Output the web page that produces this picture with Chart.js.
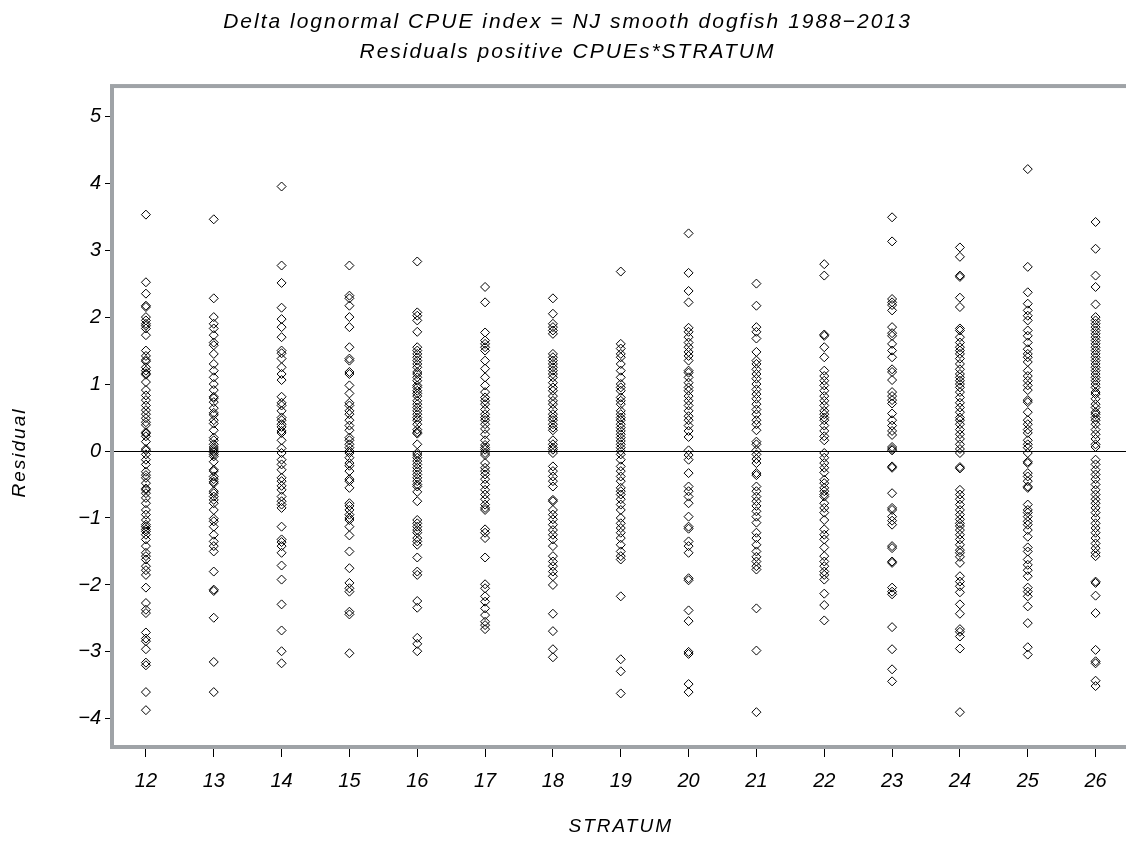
<!DOCTYPE html>
<html>
<head>
<meta charset="utf-8">
<script src="https://cdn.jsdelivr.net/npm/chart.js"></script>
<style>
  html, body { margin: 0; padding: 0; background: #fff; overflow: hidden; }
  #wrap { width: 1126px; height: 844px; overflow: hidden; }
</style>
</head>
<body>
<div id="wrap"><canvas id="mycanvas" width="1135" height="844"></canvas></div>
<script>
// residuals per stratum
var strata = [12, 13, 14, 15, 16, 17, 18, 19, 20, 21, 22, 23, 24, 25, 26];
var yTicks = [-4, -3, -2, -1, 0, 1, 2, 3, 4, 5];

var s12 = [3.53, 2.52, 2.35, 2.17, 2.15, 2.0, 1.95, 1.9, 1.87, 1.83, 1.73, 1.5, 1.42, 1.36, 1.34, 1.25, 1.2, 1.16, 1.14, 1.03, 0.91, 0.83, 0.76, 0.68, 0.61, 0.55, 0.49, 0.43, 0.39, 0.28, 0.26, 0.22, 0.14, 0.03, 0.01, -0.05, -0.13, -0.2, -0.31, -0.36, -0.4, -0.48, -0.56, -0.58, -0.63, -0.7, -0.78, -0.88, -0.95, -1.03, -1.1, -1.13, -1.17, -1.2, -1.25, -1.32, -1.42, -1.52, -1.57, -1.62, -1.72, -1.78, -1.85, -2.04, -2.27, -2.37, -2.42, -2.71, -2.8, -2.84, -2.96, -3.16, -3.2, -3.6, -3.87];
var s13 = [3.46, 2.28, 2.0, 1.9, 1.83, 1.73, 1.62, 1.58, 1.45, 1.3, 1.2, 1.1, 1.0, 0.91, 0.81, 0.79, 0.73, 0.64, 0.57, 0.54, 0.46, 0.41, 0.31, 0.2, 0.16, 0.1, 0.06, 0.03, 0.0, -0.02, -0.05, -0.08, -0.16, -0.28, -0.3, -0.38, -0.42, -0.46, -0.48, -0.6, -0.63, -0.68, -0.73, -0.78, -0.88, -1.01, -1.05, -1.13, -1.25, -1.35, -1.42, -1.5, -1.8, -2.07, -2.09, -2.49, -3.15, -3.6];
var s14 = [3.95, 2.77, 2.51, 2.14, 1.97, 1.85, 1.7, 1.5, 1.46, 1.38, 1.25, 1.15, 1.06, 0.81, 0.72, 0.68, 0.6, 0.5, 0.46, 0.4, 0.36, 0.3, 0.27, 0.16, 0.04, -0.03, -0.13, -0.2, -0.28, -0.4, -0.45, -0.52, -0.58, -0.68, -0.75, -0.8, -0.85, -1.13, -1.32, -1.36, -1.42, -1.52, -1.71, -1.92, -2.29, -2.68, -2.99, -3.17];
var s15 = [2.77, 2.32, 2.28, 2.17, 2.0, 1.85, 1.55, 1.38, 1.35, 1.18, 1.15, 0.98, 0.86, 0.72, 0.68, 0.6, 0.55, 0.46, 0.38, 0.31, 0.2, 0.16, 0.1, 0.05, 0.0, -0.03, -0.1, -0.18, -0.22, -0.3, -0.42, -0.45, -0.55, -0.78, -0.82, -0.88, -0.95, -1.0, -1.03, -1.13, -1.26, -1.5, -1.75, -1.97, -2.05, -2.1, -2.4, -2.44, -3.02];
var s16 = [2.83, 2.07, 2.02, 1.95, 1.78, 1.55, 1.5, 1.45, 1.4, 1.35, 1.3, 1.25, 1.18, 1.15, 1.1, 1.05, 0.98, 0.95, 0.9, 0.86, 0.82, 0.75, 0.7, 0.65, 0.6, 0.55, 0.5, 0.46, 0.4, 0.32, 0.28, 0.26, 0.1, -0.03, -0.06, -0.1, -0.15, -0.2, -0.25, -0.3, -0.35, -0.4, -0.45, -0.5, -0.53, -0.61, -0.75, -1.03, -1.08, -1.13, -1.18, -1.22, -1.3, -1.35, -1.4, -1.59, -1.8, -1.85, -2.24, -2.34, -2.79, -2.88, -2.99];
var s17 = [2.45, 2.22, 1.77, 1.65, 1.6, 1.55, 1.5, 1.35, 1.23, 1.1, 0.98, 0.88, 0.8, 0.75, 0.7, 0.62, 0.55, 0.5, 0.46, 0.4, 0.33, 0.25, 0.16, 0.09, 0.05, 0.02, -0.03, -0.06, -0.18, -0.25, -0.3, -0.35, -0.42, -0.5, -0.58, -0.65, -0.72, -0.8, -0.85, -0.88, -1.17, -1.22, -1.3, -1.59, -1.99, -2.05, -2.17, -2.25, -2.35, -2.45, -2.55, -2.6, -2.66];
var s18 = [2.28, 2.05, 1.9, 1.85, 1.8, 1.75, 1.45, 1.4, 1.35, 1.3, 1.25, 1.2, 1.15, 1.1, 1.02, 0.95, 0.9, 0.82, 0.75, 0.7, 0.62, 0.55, 0.5, 0.46, 0.4, 0.35, 0.31, 0.16, 0.1, 0.05, 0.02, -0.03, -0.23, -0.3, -0.38, -0.45, -0.53, -0.73, -0.75, -0.88, -0.95, -1.02, -1.1, -1.18, -1.25, -1.32, -1.42, -1.57, -1.65, -1.72, -1.8, -1.87, -2.0, -2.43, -2.69, -2.96, -3.08];
var s19 = [2.68, 1.6, 1.53, 1.45, 1.4, 1.3, 1.2, 1.1, 1.0, 0.95, 0.9, 0.8, 0.75, 0.7, 0.6, 0.55, 0.5, 0.46, 0.4, 0.35, 0.3, 0.25, 0.2, 0.15, 0.1, 0.05, 0.0, -0.05, -0.13, -0.23, -0.3, -0.38, -0.45, -0.55, -0.6, -0.65, -0.72, -0.8, -0.88, -1.0, -1.08, -1.15, -1.22, -1.3, -1.4, -1.5, -1.57, -1.62, -2.17, -3.11, -3.29, -3.62];
var s20 = [3.25, 2.66, 2.39, 2.22, 1.84, 1.78, 1.7, 1.62, 1.55, 1.48, 1.42, 1.35, 1.2, 1.17, 1.1, 1.02, 0.95, 0.9, 0.82, 0.75, 0.68, 0.6, 0.52, 0.46, 0.38, 0.3, 0.21, 0.01, -0.06, -0.13, -0.33, -0.53, -0.6, -0.68, -0.78, -0.98, -1.13, -1.16, -1.35, -1.42, -1.52, -1.9, -1.93, -2.38, -2.54, -3.0, -3.03, -3.48, -3.6];
var s21 = [2.5, 2.17, 1.85, 1.78, 1.68, 1.48, 1.35, 1.3, 1.22, 1.15, 1.08, 1.0, 0.92, 0.85, 0.78, 0.7, 0.62, 0.55, 0.46, 0.4, 0.31, 0.14, 0.1, 0.01, -0.05, -0.12, -0.18, -0.33, -0.36, -0.53, -0.6, -0.68, -0.75, -0.82, -0.9, -0.98, -1.07, -1.22, -1.3, -1.4, -1.5, -1.58, -1.65, -1.72, -1.77, -2.35, -2.98, -3.9];
var s22 = [2.79, 2.62, 1.74, 1.72, 1.55, 1.4, 1.2, 1.12, 1.05, 0.98, 0.9, 0.82, 0.75, 0.68, 0.6, 0.55, 0.5, 0.46, 0.38, 0.3, 0.22, 0.16, -0.03, -0.1, -0.18, -0.25, -0.32, -0.43, -0.48, -0.55, -0.6, -0.65, -0.68, -0.78, -0.85, -0.92, -1.03, -1.17, -1.25, -1.32, -1.44, -1.57, -1.65, -1.72, -1.8, -1.85, -1.92, -2.13, -2.3, -2.53];
var s23 = [3.49, 3.13, 2.27, 2.22, 2.18, 2.1, 1.85, 1.76, 1.72, 1.6, 1.5, 1.4, 1.22, 1.18, 1.06, 0.88, 0.82, 0.76, 0.71, 0.56, 0.46, 0.38, 0.3, 0.24, 0.06, 0.03, 0.01, -0.23, -0.25, -0.63, -0.85, -0.88, -0.98, -1.04, -1.1, -1.42, -1.45, -1.65, -1.67, -2.04, -2.1, -2.14, -2.63, -2.96, -3.26, -3.44];
var s24 = [3.04, 2.9, 2.62, 2.6, 2.29, 2.15, 1.83, 1.8, 1.7, 1.62, 1.55, 1.5, 1.45, 1.38, 1.3, 1.22, 1.15, 1.1, 1.05, 1.0, 0.95, 0.88, 0.8, 0.72, 0.65, 0.58, 0.5, 0.46, 0.4, 0.32, 0.25, 0.18, 0.1, 0.03, -0.03, -0.24, -0.26, -0.58, -0.65, -0.72, -0.8, -0.88, -0.95, -1.02, -1.08, -1.12, -1.18, -1.25, -1.32, -1.4, -1.48, -1.52, -1.58, -1.67, -1.87, -1.95, -2.02, -2.11, -2.29, -2.43, -2.66, -2.7, -2.77, -2.95, -3.9];
var s25 = [4.21, 2.75, 2.37, 2.2, 2.1, 2.02, 1.95, 1.8, 1.72, 1.62, 1.52, 1.45, 1.4, 1.33, 1.2, 1.12, 1.05, 0.98, 0.91, 0.76, 0.73, 0.58, 0.46, 0.4, 0.32, 0.27, 0.16, 0.1, 0.05, -0.03, -0.16, -0.18, -0.33, -0.38, -0.45, -0.53, -0.55, -0.8, -0.88, -0.92, -0.98, -1.05, -1.1, -1.18, -1.28, -1.44, -1.5, -1.62, -1.7, -1.78, -1.87, -2.04, -2.1, -2.17, -2.32, -2.57, -2.93, -3.04];
var s26 = [3.42, 3.02, 2.62, 2.45, 2.19, 2.0, 1.95, 1.9, 1.85, 1.8, 1.75, 1.7, 1.65, 1.6, 1.55, 1.5, 1.45, 1.4, 1.35, 1.3, 1.25, 1.2, 1.15, 1.1, 1.05, 1.0, 0.95, 0.88, 0.85, 0.78, 0.7, 0.65, 0.58, 0.55, 0.5, 0.46, 0.4, 0.32, 0.25, 0.18, 0.1, 0.06, -0.13, -0.2, -0.28, -0.35, -0.42, -0.5, -0.58, -0.65, -0.72, -0.78, -0.85, -0.92, -1.0, -1.08, -1.15, -1.22, -1.3, -1.38, -1.45, -1.52, -1.57, -1.95, -1.97, -2.16, -2.42, -2.97, -3.14, -3.17, -3.43, -3.51];

var residuals = [s12, s13, s14, s15, s16, s17, s18, s19, s20, s21, s22, s23, s24, s25, s26];

var pts = [];
for (var i in strata) {
  for (var j in residuals[i]) {
    pts.push({ x: strata[i], y: residuals[i][j] });
  }
}

var FONT = '"Liberation Sans", Arial, sans-serif';
var GRAY = '#9fa3a7';

// grey frame round the plot area + spaced lettering for titles
var frame = {
  id: 'frame',
  beforeDraw: function(chart) {
    chart.ctx.letterSpacing = '2px';
  },
  beforeDatasetsDraw: function(chart) {
    var a = chart.chartArea, ctx = chart.ctx;
    ctx.letterSpacing = '0px';
    ctx.save();
    ctx.strokeStyle = GRAY;
    ctx.lineWidth = 4;
    ctx.strokeRect(a.left, a.top, a.right - a.left, a.bottom - a.top);
    ctx.restore();
  },
  afterDraw: function(chart) {
    // y axis label, sits a bit below the middle of the frame like the original
    var a = chart.chartArea, ctx = chart.ctx;
    ctx.save();
    ctx.letterSpacing = '2px';
    ctx.font = 'italic 19px ' + FONT;
    ctx.fillStyle = '#000';
    ctx.textAlign = 'center';
    ctx.textBaseline = 'middle';
    ctx.translate(20, (a.top + a.bottom) / 2 + 36);
    ctx.rotate(-Math.PI / 2);
    ctx.fillText('Residual', 0, 0);
    ctx.restore();
  }
};

var ctx = document.getElementById('mycanvas');

var scatter = new Chart(ctx, {
  type: 'scatter',
  data: {
    datasets: [{
      label: 'Residual',
      data: pts,
      pointStyle: 'rectRot',
      pointRadius: 4.5,
      borderWidth: 1,
      borderColor: '#000',
      backgroundColor: 'rgba(0,0,0,0)'
    }]
  },
  options: {
    responsive: false,
    animation: false,
    layout: { padding: { left: 0, right: 0, top: 0, bottom: 0 } },
    plugins: {
      legend: { display: false },
      tooltip: { enabled: false },
      title: {
        display: true,
        text: ['Delta lognormal CPUE index = NJ smooth dogfish 1988\u22122013', 'Residuals positive CPUEs*STRATUM'],
        color: '#000',
        font: { family: FONT, size: 21, style: 'italic', weight: 'normal', lineHeight: 1.43 },
        padding: { top: 7, bottom: 19 }
      }
    },
    scales: {
      x: {
        type: 'linear',
        min: 11.5,
        max: 26.5,
        afterFit: function(scale) { scale.height = 97; },
        afterBuildTicks: function(scale) {
          scale.ticks = strata.map(function(v) { return { value: v }; });
        },
        border: { display: false },
        grid: { drawOnChartArea: false, tickLength: 10, tickColor: '#000', color: '#000', lineWidth: 1 },
        ticks: {
          z: 1,
          color: '#000',
          padding: 12,
          maxRotation: 0,
          font: { family: FONT, size: 20, style: 'italic' }
        },
        title: {
          display: true,
          text: 'STRATUM',
          color: '#000',
          font: { family: FONT, size: 19, style: 'italic' },
          padding: { top: 0, bottom: 6 }
        }
      },
      y: {
        min: -4.42,
        max: 5.45,
        afterFit: function(scale) { scale.width = 112; },
        afterBuildTicks: function(scale) {
          scale.ticks = yTicks.map(function(v) { return { value: v }; });
        },
        border: { display: false },
        grid: {
          drawOnChartArea: true,
          tickLength: 7,
          tickColor: '#000',
          lineWidth: 1,
          color: function(c) { return c.tick && c.tick.value === 0 ? '#000' : 'rgba(0,0,0,0)'; }
        },
        ticks: {
          z: 1,
          color: '#000',
          padding: 4,
          font: { family: FONT, size: 20, style: 'italic' },
          callback: function(v) { return v < 0 ? '\u2212' + Math.abs(v) : '' + v; }
        },
        title: { display: false }
      }
    }
  },
  plugins: [frame]
});
</script>
</body>
</html>
